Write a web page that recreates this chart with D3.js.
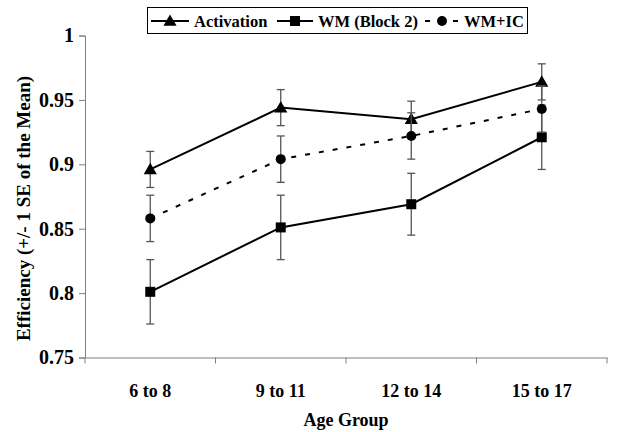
<!DOCTYPE html>
<html>
<head>
<meta charset="utf-8">
<script src="https://cdn.jsdelivr.net/npm/d3@7"></script>
<style>
  body { margin: 0; background: #fff; }
</style>
</head>
<body>
<div id="chart"></div>
<script>
// data
var groups = ["6 to 8", "9 to 11", "12 to 14", "15 to 17"];
var activation = [0.896, 0.944, 0.935, 0.964];
var activationSE = [0.014, 0.014, 0.014, 0.014];
var wm = [0.801, 0.851, 0.869, 0.921];
var wmSE = [0.025, 0.025, 0.024, 0.025];
var wmic = [0.858, 0.904, 0.922, 0.943];
var wmicSE = [0.018, 0.018, 0.018, 0.018];
var yTicks = [0.75, 0.8, 0.85, 0.9, 0.95, 1];
var seriesNames = ["Activation", "WM (Block 2)", "WM+IC"];

var serif = "'Liberation Serif', 'Times New Roman', 'DejaVu Serif', serif";
var width = 644, height = 432;
var plotLeft = 85, plotRight = 607, plotTop = 35.5, plotBottom = 357.5;

var svg = d3.select("#chart").append("svg")
    .attr("width", width)
    .attr("height", height)
    .attr("font-family", serif)
    .attr("font-weight", "bold");

var x = d3.scaleBand().domain(groups).range([plotLeft, plotRight]);
var y = d3.scaleLinear().domain([0.75, 1]).range([plotBottom, plotTop]);

//axes
var yAxis = svg.append("g")
    .attr("transform", "translate(" + plotLeft + ",0)")
    .call(d3.axisLeft(y).tickValues(yTicks).tickSize(6).tickPadding(5)
        .tickFormat(function(d) { return String(+d.toFixed(2)); }));
yAxis.attr("font-family", serif).attr("font-size", 20);
yAxis.selectAll("path, line").attr("stroke", "#808080");
yAxis.selectAll("text").attr("fill", "#000");

var xAxis = svg.append("g")
    .attr("transform", "translate(0," + plotBottom + ")")
    .call(d3.axisBottom(x).tickSize(0).tickPadding(27));
xAxis.attr("font-family", serif).attr("font-size", 18);
xAxis.select("path").attr("stroke", "#808080");
xAxis.selectAll("text").attr("fill", "#000");

//ticks between the groups
svg.selectAll(".xtick")
    .data(groups.concat(["end"]))
    .enter().append("line")
    .attr("class", "xtick")
    .attr("x1", function(d, i) { return plotLeft + i * x.step(); })
    .attr("x2", function(d, i) { return plotLeft + i * x.step(); })
    .attr("y1", plotBottom)
    .attr("y2", plotBottom + 6)
    .attr("stroke", "#808080");

//axis titles
svg.append("text")
    .attr("x", (plotLeft + plotRight) / 2)
    .attr("y", 426)
    .attr("text-anchor", "middle")
    .attr("font-size", 18)
    .text("Age Group");

svg.append("text")
    .attr("transform", "translate(30," + ((plotTop + plotBottom) / 2 + 12) + ") rotate(-90)")
    .attr("text-anchor", "middle")
    .attr("font-size", 19)
    .text("Efficiency (+/- 1 SE of the Mean)");

var cx = function(i) { return x(groups[i]) + x.bandwidth() / 2; };

var series = [
    { name: seriesNames[0], values: activation, se: activationSE, marker: "triangle", dash: null },
    { name: seriesNames[1], values: wm, se: wmSE, marker: "square", dash: null },
    { name: seriesNames[2], values: wmic, se: wmicSE, marker: "circle", dash: "5,9" }
];

var line = d3.line()
    .x(function(d, i) { return cx(i); })
    .y(function(d) { return y(d); });

function drawMarker(g, type, px, py) {
    if (type === "triangle") {
        g.append("path")
            .attr("d", d3.symbol().type(d3.symbolTriangle).size(75)())
            .attr("transform", "translate(" + px + "," + (py + 1) + ")")
            .attr("fill", "#000");
    } else if (type === "square") {
        g.append("rect")
            .attr("x", px - 5).attr("y", py - 5)
            .attr("width", 10).attr("height", 10)
            .attr("fill", "#000");
    } else {
        g.append("circle")
            .attr("cx", px).attr("cy", py).attr("r", 5)
            .attr("fill", "#000");
    }
}

series.forEach(function(s) {
    var g = svg.append("g");

    //error bars
    s.values.forEach(function(v, i) {
        var hi = y(v + s.se[i]), lo = y(v - s.se[i]);
        g.append("line").attr("x1", cx(i)).attr("x2", cx(i)).attr("y1", hi).attr("y2", lo)
            .attr("stroke", "#555").attr("stroke-width", 1.3);
        [hi, lo].forEach(function(yy) {
            g.append("line").attr("x1", cx(i) - 4).attr("x2", cx(i) + 4).attr("y1", yy).attr("y2", yy)
                .attr("stroke", "#555").attr("stroke-width", 1.3);
        });
    });

    g.append("path")
        .datum(s.values)
        .attr("d", line)
        .attr("fill", "none")
        .attr("stroke", "#000")
        .attr("stroke-width", 2)
        .attr("stroke-dasharray", s.dash);

    s.values.forEach(function(v, i) { drawMarker(g, s.marker, cx(i), y(v)); });
});

//legend
var legend = svg.append("g");
legend.append("rect")
    .attr("x", 147.5).attr("y", 7.5)
    .attr("width", 380).attr("height", 26)
    .attr("fill", "#fff").attr("stroke", "#000");

var legendX = [151, 277, 425];
var legendW = [38, 36, 34];
series.forEach(function(s, i) {
    var lx = legendX[i], ly = 21;
    legend.append("line")
        .attr("x1", lx).attr("x2", lx + legendW[i])
        .attr("y1", ly).attr("y2", ly)
        .attr("stroke", "#000").attr("stroke-width", 2)
        .attr("stroke-dasharray", s.dash ? "5,9" : null);
    drawMarker(legend, s.marker, lx + legendW[i] / 2, ly);
    legend.append("text")
        .attr("x", lx + legendW[i] + 5)
        .attr("y", ly + 6)
        .attr("font-size", 16.5)
        .text(s.name);
});
</script>
</body>
</html>
